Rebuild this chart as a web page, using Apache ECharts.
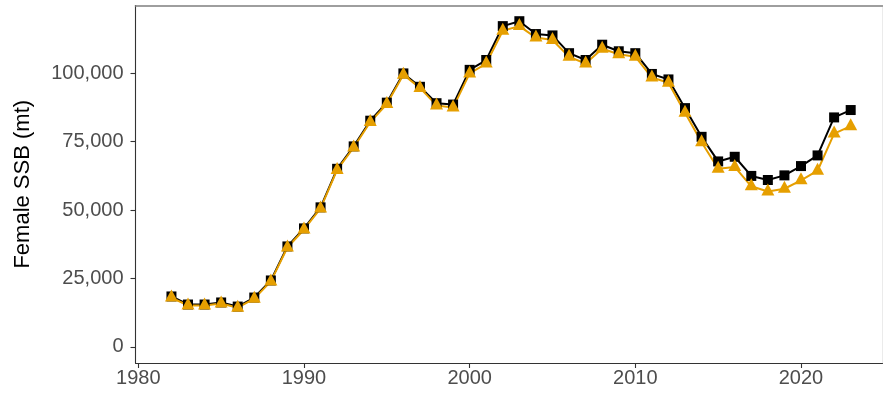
<!DOCTYPE html>
<html>
<head>
<meta charset="utf-8">
<script src="https://cdn.jsdelivr.net/npm/echarts@6/dist/echarts.min.js"></script>
<style>
html,body{margin:0;padding:0;background:#fff;}
#chart{width:883px;height:394px;}
</style>
</head>
<body>
<div id="chart"></div>
<script>
const years = [1982,1983,1984,1985,1986,1987,1988,1989,1990,1991,1992,1993,1994,1995,1996,1997,1998,1999,2000,2001,2002,2003,2004,2005,2006,2007,2008,2009,2010,2011,2012,2013,2014,2015,2016,2017,2018,2019,2020,2021,2022,2023];
const ssbBlack = [18400,15450,15450,16200,14700,18000,24250,36700,43300,51000,65100,73300,82700,89300,100000,95100,89100,88600,101300,104900,117300,119100,114400,113900,107400,104900,110500,108100,107400,99800,97800,87300,76800,67800,69500,62500,61000,62700,66100,70000,83900,86600];
const ssbOrange = [18000,15100,15100,15800,14300,17600,23900,36300,42900,50600,64700,72900,82200,88800,99500,94700,88300,87500,100000,103600,115600,117300,113100,112200,106100,103600,109000,107000,106100,98500,96600,85600,74800,65100,65800,58700,56800,57800,60900,64400,78000,80700];
const xTicks = [1980,1990,2000,2010,2020];
const yTicks = [0,25000,50000,75000,100000];
const yTitle = 'Female SSB (mt)';

const fmt = v => String(v).replace(/\B(?=(\d{3})+(?!\d))/g, ',');
const pairs = arr => years.map((y, i) => [y, arr[i]]);

const XMIN = 1979.83, XMAX = 2024.92, YMIN = -5945, YMAX = 124845;
const axisCol = '#333333';
const font = 'Liberation Sans, Arial, sans-serif';

const chart = echarts.init(document.getElementById('chart'), null, {renderer: 'canvas'});
chart.setOption({
  animation: false,
  backgroundColor: '#ffffff',
  grid: {left: 135.5, right: 0.5, top: 5.5, bottom: 31},
  xAxis: [{
    type: 'value', min: XMIN, max: XMAX,
    axisLine: {show: true, onZero: false, lineStyle: {color: axisCol, width: 1.1}},
    axisTick: {show: true, length: 5, customValues: xTicks, lineStyle: {color: axisCol, width: 1.1}},
    axisLabel: {customValues: xTicks, color: '#4d4d4d', fontSize: 20, fontFamily: font, margin: 5, formatter: v => String(v)},
    splitLine: {show: false}
  }, {
    type: 'value', position: 'top', min: XMIN, max: XMAX,
    axisLine: {show: true, onZero: false, lineStyle: {color: '#7f7f7f', width: 1.5}},
    axisTick: {show: false}, axisLabel: {show: false}, splitLine: {show: false}
  }],
  yAxis: [{
    type: 'value', min: YMIN, max: YMAX,
    name: yTitle, nameLocation: 'middle', nameGap: 102,
    nameTextStyle: {color: '#000', fontSize: 22, fontFamily: font},
    axisLine: {show: true, onZero: false, lineStyle: {color: axisCol, width: 1.1}},
    axisTick: {show: true, length: 5, customValues: yTicks, lineStyle: {color: axisCol, width: 1.1}},
    axisLabel: {customValues: yTicks, color: '#4d4d4d', fontSize: 20, fontFamily: font, margin: 12, formatter: fmt},
    splitLine: {show: false}
  }, {
    type: 'value', position: 'right', min: YMIN, max: YMAX,
    axisLine: {show: true, onZero: false, lineStyle: {color: '#ebebeb', width: 1}},
    axisTick: {show: false}, axisLabel: {show: false}, splitLine: {show: false}
  }],
  series: [
    {type: 'line', data: pairs(ssbBlack), showSymbol: false, symbol: 'none',
     lineStyle: {color: '#000000', width: 2}, z: 2},
    {type: 'line', data: pairs(ssbOrange), showSymbol: false, symbol: 'none',
     lineStyle: {color: '#E69F00', width: 2}, z: 3},
    {type: 'scatter', data: pairs(ssbBlack), symbol: 'rect', symbolSize: 10,
     itemStyle: {color: '#000000', opacity: 1}, z: 4},
    {type: 'scatter', data: pairs(ssbOrange), symbol: 'triangle', symbolSize: [13, 12], symbolOffset: [0, -2],
     itemStyle: {color: '#E69F00', opacity: 1}, z: 5}
  ]
});
</script>
</body>
</html>
